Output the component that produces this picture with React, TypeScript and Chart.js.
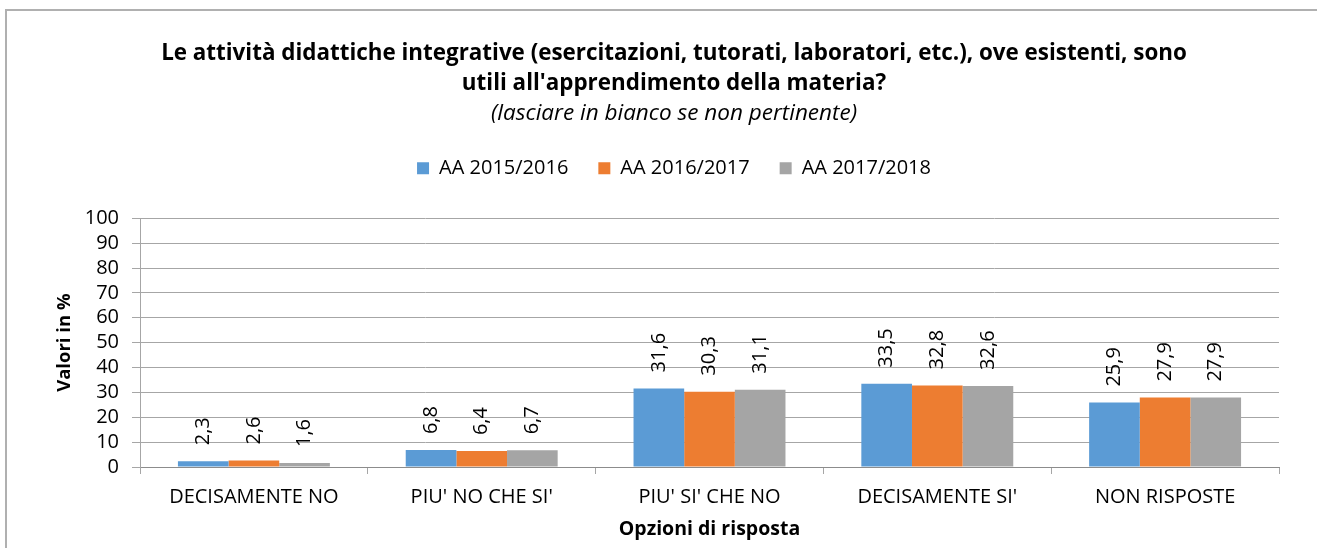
import React, { useEffect, useRef } from "react";
import { Chart, registerables } from "chart.js";

Chart.register(...registerables);

// ---- Data ----
const categories = ["DECISAMENTE NO", "PIU' NO CHE SI'", "PIU' SI' CHE NO", "DECISAMENTE SI'", "NON RISPOSTE"];
const seriesNames = ["AA 2015/2016", "AA 2016/2017", "AA 2017/2018"];
const aa2015_2016 = [2.3, 6.8, 31.6, 33.5, 25.9];
const aa2016_2017 = [2.6, 6.4, 30.3, 32.8, 27.9];
const aa2017_2018 = [1.6, 6.7, 31.1, 32.6, 27.9];
const seriesColors = ["#5B9BD5", "#ED7D31", "#A5A5A5"];

const titleLines = [
  "Le attività didattiche integrative (esercitazioni, tutorati, laboratori, etc.), ove esistenti, sono",
  "utili all'apprendimento della materia?",
];
const subtitleText = "(lasciare in bianco se non pertinente)";
const yAxisTitle = "Valori in %";
const xAxisTitle = "Opzioni di risposta";
const yMin = 0;
const yMax = 100;
const yStep = 10;

const W = 1317;
const H = 548;

const fmt = (v: number) => v.toFixed(1).replace(".", ",");

const framePlugin = {
  id: "frame",
  beforeDraw(chart: any) {
    const ctx = chart.ctx;
    ctx.save();
    ctx.fillStyle = "#ffffff";
    ctx.fillRect(0, 0, chart.width, chart.height);
    ctx.strokeStyle = "#b0b0b0";
    ctx.lineWidth = 2;
    ctx.beginPath();
    ctx.moveTo(6, chart.height);
    ctx.lineTo(6, 10);
    ctx.stroke();
    ctx.beginPath();
    ctx.moveTo(5, 10);
    ctx.lineTo(chart.width, 10);
    ctx.stroke();
    ctx.restore();
  },
};

const valueLabelPlugin = {
  id: "valueLabels",
  afterDatasetsDraw(chart: any) {
    const ctx = chart.ctx;
    ctx.save();
    ctx.font = '20px "Open Sans"';
    ctx.fillStyle = "#000000";
    ctx.textAlign = "left";
    ctx.textBaseline = "middle";
    chart.data.datasets.forEach((ds: any, i: number) => {
      const meta = chart.getDatasetMeta(i);
      meta.data.forEach((bar: any, j: number) => {
        const v = ds.data[j];
        ctx.save();
        ctx.translate(bar.x, bar.y - 16);
        ctx.rotate(-Math.PI / 2);
        ctx.fillText(fmt(v), 0, 0);
        ctx.restore();
      });
    });
    ctx.restore();
  },
};

export default function App() {
  const canvasRef = useRef<HTMLCanvasElement | null>(null);

  useEffect(() => {
    const canvas = canvasRef.current;
    if (!canvas) return;
    const seriesData = [aa2015_2016, aa2016_2017, aa2017_2018];
    const chart = new Chart(canvas, {
      type: "bar",
      data: {
        labels: categories,
        datasets: seriesNames.map((name, i) => ({
          label: name,
          data: seriesData[i],
          backgroundColor: seriesColors[i],
          borderWidth: 0,
          categoryPercentage: 0.667,
          barPercentage: 1.0,
          xAxisID: "x",
          yAxisID: "y",
        })),
      },
      options: {
        responsive: false,
        maintainAspectRatio: false,
        animation: false,
        devicePixelRatio: 1,
        layout: { padding: { left: 69, right: 38, top: 0, bottom: 0 } },
        plugins: {
          title: {
            display: true,
            text: titleLines,
            color: "#000000",
            font: { family: "Open Sans", size: 22.4, weight: "bold", lineHeight: 1.34 },
            padding: { top: 39, bottom: 0 },
          },
          subtitle: {
            display: true,
            text: subtitleText,
            color: "#000000",
            font: { family: "Open Sans", size: 22.5, style: "italic", lineHeight: 1.3 },
            padding: { top: 0, bottom: 0 },
          },
          legend: {
            display: true,
            position: "top",
            labels: {
              boxWidth: 12,
              boxHeight: 12,
              padding: 30,
              color: "#000000",
              font: { family: "Open Sans", size: 20 },
            },
          },
          tooltip: { enabled: false },
        },
        scales: {
          x: {
            type: "category",
            position: "bottom",
            offset: true,
            grid: {
              display: true,
              drawOnChartArea: false,
              drawTicks: true,
              tickLength: 7,
              color: "#a6a6a6",
              offset: true,
            },
            border: { display: true, color: "#8c8c8c", width: 1 },
            ticks: {
              color: "#000000",
              font: { family: "Open Sans", size: 20 },
              padding: 11,
              maxRotation: 0,
              autoSkip: false,
            },
            title: {
              display: true,
              text: xAxisTitle,
              color: "#000000",
              font: { family: "Open Sans", size: 19.5, weight: "bold" },
              padding: { top: 0, bottom: 7 },
            },
            afterFit: (s: any) => {
              s.height = 81;
            },
          },
          y: {
            type: "linear",
            position: "left",
            min: yMin,
            max: yMax,
            ticks: {
              stepSize: yStep,
              autoSkip: false,
              color: "#000000",
              font: { family: "Open Sans", size: 20 },
              padding: 13,
            },
            grid: { color: "#a6a6a6", tickLength: 8, drawTicks: true },
            border: { display: true, color: "#a6a6a6" },
            title: {
              display: true,
              text: yAxisTitle,
              color: "#000000",
              font: { family: "Open Sans", size: 18.5, weight: "bold" },
              padding: { top: -15, bottom: 0 },
            },
            afterFit: (s: any) => {
              s.width = 71;
            },
          },
          topSpacer: {
            type: "category",
            position: "top",
            display: true,
            grid: { display: false, drawTicks: false },
            border: { display: false },
            ticks: { display: false },
            afterFit: (s: any) => {
              s.height = 30;
            },
          },
        },
      } as any,
      plugins: [framePlugin, valueLabelPlugin],
    });
    return () => chart.destroy();
  }, []);

  return (
    <div style={{ position: "absolute", left: 0, top: 0, width: W, height: H, background: "#fff" }}>
      <canvas ref={canvasRef} width={W} height={H} style={{ width: W, height: H, display: "block" }} />
    </div>
  );
}
